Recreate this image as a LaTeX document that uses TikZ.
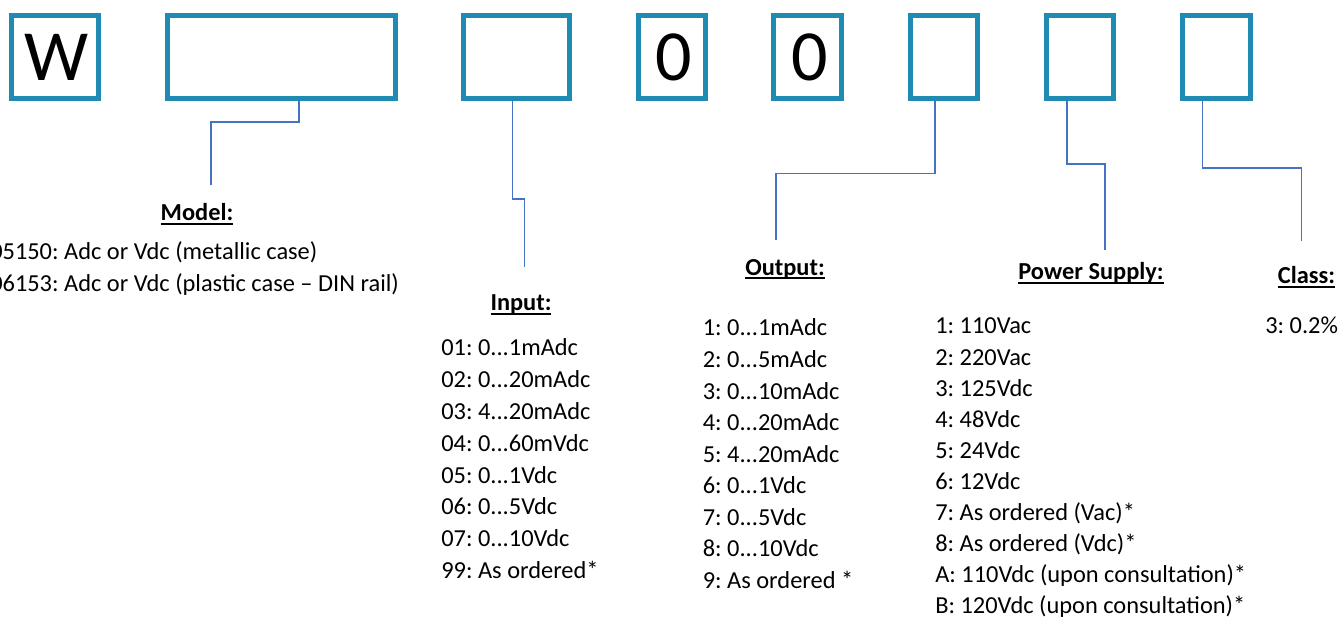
\documentclass[tikz,border=0pt]{standalone}
\usepackage{fontspec}
\setmainfont{Carlito}
\usetikzlibrary{calc}
\frenchspacing

\definecolor{boxblue}{RGB}{31,138,178}
\definecolor{linkblue}{RGB}{68,114,196}

% bold heading with a rule set just below the baseline
\newcommand\headul[1]{\setbox0=\hbox{\bfseries #1}\rlap{\vrule height -1.2pt depth 2.8pt width \wd0}\box0}
% three dots of a range, kept out of \foreach's own "..." syntax
\newcommand\tdots{...}

\tikzset{
  codebox/.style={draw=boxblue, line width=3.5pt, fill=white, inner sep=0pt,
                  minimum height=62.5pt, font=\fontsize{54}{60}\selectfont},
  link/.style={draw=linkblue, line width=1pt},
  heading/.style={inner sep=0pt, anchor=base, font=\fontsize{18.3}{22}\selectfont},
  item/.style={inner sep=0pt, anchor=base west, font=\fontsize{18.3}{22}\selectfont},
}

\begin{document}
\begin{tikzpicture}[x=0.75pt, y=-0.75pt]
\useasboundingbox (0,0) rectangle (1338,623);

% code boxes
\node[codebox, minimum width=65.5pt] (b1) at (55,57) {\hspace*{3pt}W};
\node[codebox, minimum width=171.2pt] (b2) at (281.5,57) {};
\node[codebox, minimum width=79.7pt] (b3) at (516.5,57) {};
\node[codebox, minimum width=50.5pt] (b4) at (672,57) {\hspace*{2pt}0};
\node[codebox, minimum width=51.2pt] (b5) at (807.5,57) {\hspace*{3pt}0};
\node[codebox, minimum width=50.5pt] (b6) at (944,57) {};
\node[codebox, minimum width=50.5pt] (b7) at (1080,57) {};
\node[codebox, minimum width=51.2pt] (b8) at (1216.5,57) {};

% free ends of the leader lines
\coordinate (m-end) at (211,185);
\coordinate (in-end) at (524.7,266.7);
\coordinate (out-end) at (776,240);
\coordinate (ps-end) at (1105,250);
\coordinate (cl-end) at (1301.3,240.7);

% leader lines
\draw[link] ($(b2.south)+(17.5,0)$) -- ++(0,21) -| (m-end);
\draw[link] ($(b3.south)+(-3.8,0)$) -- ++(0,98) -| (in-end);
\draw[link] ($(b6.south)+(-9,0)$) -- ++(0,72.7) -| (out-end);
\draw[link] ($(b7.south)+(-13,0)$) -- ++(0,63) -| (ps-end);
\draw[link] ($(b8.south)+(-14.2,0)$) -- ++(0,67) -| (cl-end);

% headings
\node[heading] (h-model) at (197,221) {\headul{Model:}};
\node[heading] (h-input) at (521,311) {\headul{Input:}};
\node[heading] (h-output) at (785,275.5) {\headul{Output:}};
\node[heading] (h-power) at (1091,280) {\headul{Power Supply:}};
\node[heading, anchor=base west] (h-class) at (1277.7,284) {\headul{Class:}};

% option lists
\foreach \t [count=\i from 0] in {05150: Adc or Vdc (metallic case), 06153: Adc or Vdc (plastic case – DIN rail)}
  \node[item] (model-\i) at (-10,260+\i*31.7) {\t};

\foreach \t [count=\i from 0] in {01: 0\tdots 1mAdc, 02: 0\tdots 20mAdc, 03: 4\tdots 20mAdc,
    04: 0\tdots 60mVdc, 05: 0\tdots 1Vdc, 06: 0\tdots 5Vdc, 07: 0\tdots 10Vdc, 99: As ordered*}
  \node[item] (in-\i) at (441,356+\i*31.75) {\t};

\foreach \t [count=\i from 0] in {1: 0\tdots 1mAdc, 2: 0\tdots 5mAdc, 3: 0\tdots 10mAdc,
    4: 0\tdots 20mAdc, 5: 4\tdots 20mAdc, 6: 0\tdots 1Vdc, 7: 0\tdots 5Vdc, 8: 0\tdots 10Vdc,
    9: As ordered *}
  \node[item] (out-\i) at (702.5,336+\i*31.5) {\t};

\foreach \t [count=\i from 0] in {1: 110Vac, 2: 220Vac, 3: 125Vdc, 4: 48Vdc, 5: 24Vdc, 6: 12Vdc,
    7: As ordered (Vac)*, 8: As ordered (Vdc)*, A: 110Vdc (upon consultation)*,
    B: 120Vdc (upon consultation)*}
  \node[item] (ps-\i) at (935,334+\i*31.03) {\t};

\node[item] (cl-0) at (1265,334) {3: 0.2\%};
\end{tikzpicture}
\end{document}
